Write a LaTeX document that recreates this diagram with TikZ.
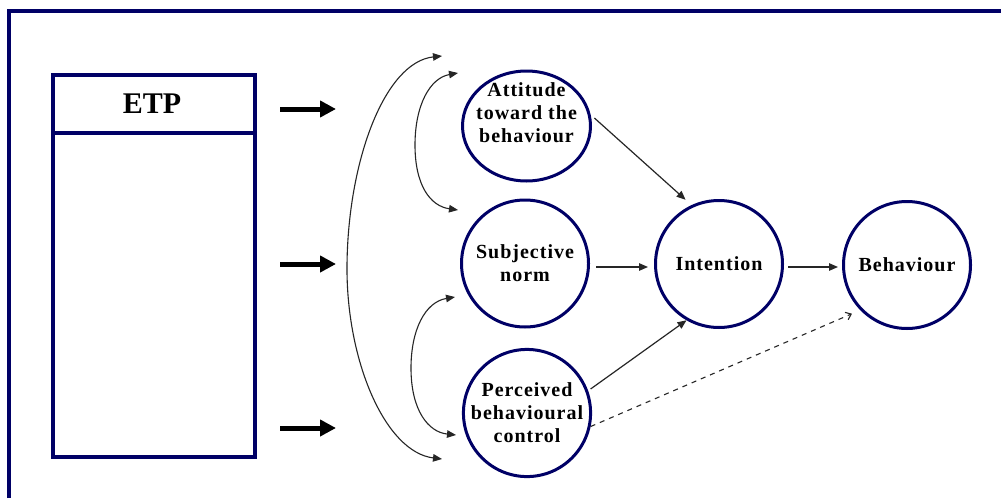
\documentclass[tikz,border=0pt]{standalone}
\usepackage{fontspec}
\setmainfont{Liberation Serif}
\newfontfamily\bubblefam[LetterSpace=5]{Liberation Serif}
\usetikzlibrary{arrows.meta,shapes.geometric,calc}
\definecolor{navyline}{RGB}{0,0,102}
\begin{document}
\begin{tikzpicture}[x=1pt,y=-1pt,
  bubblefont/.style={font=\bubblefam\fontsize{20}{23}\selectfont\bfseries},
  bubble/.style={circle,draw=navyline,line width=3pt,minimum size=127pt,inner sep=0pt,align=center,bubblefont},
  link/.style={draw=black!85,line width=1.2pt,-{Triangle[length=9pt,width=7.5pt]}},
  bothlink/.style={draw=black!85,line width=1.1pt,{Triangle[length=9pt,width=7.5pt]}-{Triangle[length=9pt,width=7.5pt]}},
  dashlink/.style={draw=black!85,line width=1.1pt,dash pattern=on 5pt off 5pt,-{Straight Barb[length=5pt,width=8pt]}},
  fatarrow/.style={draw=black,line width=5pt,-{Triangle[length=16pt,width=16pt]}},
  frameline/.style={draw=navyline,line width=4pt}
]
\useasboundingbox (0,0) rectangle (1001,498);
\fill[white] (0,0) rectangle (1001,498);
% outer frame (top and left only)
\draw[frameline] (9,498) -- (9,10.5) -- (1001,10.5);

% ETP box
\node[draw=navyline,line width=4pt,minimum width=202pt,minimum height=382pt,inner sep=0pt] (etpbox) at (154,266) {};
\draw[frameline] (etpbox.west |- 0,133) -- (etpbox.east |- 0,133);
\node[font=\fontsize{30}{36}\selectfont\bfseries] (etp) at (152,104) {ETP};

% fat arrows
\coordinate (f1s) at (280,109); \coordinate (f1e) at (336,109);
\coordinate (f2s) at (280,264); \coordinate (f2e) at (336,264);
\coordinate (f3s) at (280,428); \coordinate (f3e) at (336,428);
\draw[fatarrow] (f1s) -- (f1e);
\draw[fatarrow] (f2s) -- (f2e);
\draw[fatarrow] (f3s) -- (f3e);

% bubbles
\node[ellipse,draw=navyline,line width=3pt,minimum width=128pt,minimum height=110pt,inner sep=0pt,
      label={[bubblefont,align=center,yshift=13pt]center:Attitude\\toward the\\behaviour}] (att) at (526.5,126) {};
\node[bubble] (subj) at (525,263.5) {Subjective\\norm};
\node[bubble] (perc) at (527,413) {Perceived\\behavioural\\control};
\node[bubble] (int) at (719,264) {Intention};
\node[bubble] (beh) at (907,265) {Behaviour};

% straight connectors
\draw[link,shorten <=5pt,shorten >=8pt] (att.10) -- (int.115);
\draw[link,shorten <=6pt,shorten >=6pt] (subj.east |- 0,267) -- (int.west |- 0,267);
\draw[link,shorten <=4pt,shorten >=4pt] (int.east |- 0,267) -- (beh.west |- 0,267);
\draw[link,shorten <=3pt] (perc.20) -- (int.240);
\draw[dashlink,shorten >=9pt] (perc.-12) -- (beh.224);

% curved double arrows
\coordinate (bigtop) at (442,56); \coordinate (bigbot) at (442,459);
\coordinate (astop) at (458,73); \coordinate (asbot) at (458,210);
\coordinate (sptop) at (455,297); \coordinate (spbot) at (456,435);
\draw[bothlink] (bigtop) .. controls (385,62) and (348,160) .. (347,265)
                        .. controls (346,360) and (385,452) .. (bigbot);
\draw[bothlink] (astop) .. controls (430,78) and (415,105) .. (415,145)
                        .. controls (415,185) and (430,206) .. (asbot);
\draw[bothlink] (sptop) .. controls (425,302) and (411,330) .. (411,368)
                        .. controls (411,410) and (428,432) .. (spbot);
\end{tikzpicture}
\end{document}
